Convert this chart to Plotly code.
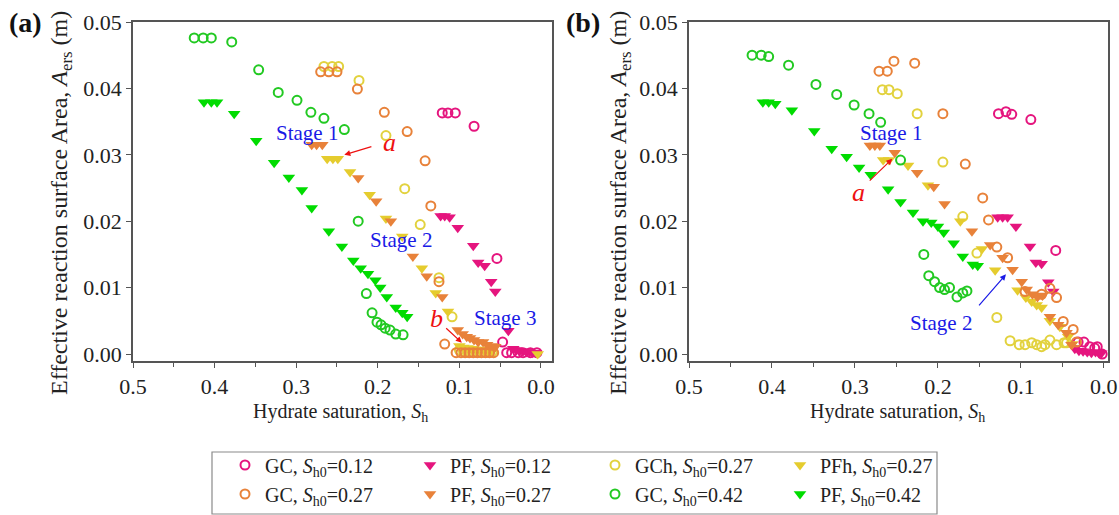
import plotly.graph_objects as go

# ---------------- data : panel (a) ----------------
a_gc12_x = [0.121,0.114,0.105,0.082,0.054,0.047,0.042,0.036,0.028,0.022,0.013,0.005]
a_gc12_y = [0.0363,0.0363,0.0363,0.0343,0.0144,0.0018,0.0002,0.0002,0.0002,0.0002,0.0002,0.0002]
a_pf12_x = [0.123,0.118,0.112,0.102,0.083,0.077,0.069,0.061,0.056,0.040,0.034,0.030,0.026,0.022,0.018,0.014,0.010,0.006]
a_pf12_y = [0.0208,0.0208,0.0206,0.0190,0.0163,0.0138,0.0133,0.0109,0.0094,0.0035,0.0008,0.0006,0.0005,0.0004,0.0003,0.0003,0.0002,0.0002]
a_gc27_x = [0.270,0.260,0.250,0.225,0.192,0.164,0.142,0.135,0.125,0.118,0.104,0.098,0.093,0.088,0.083,0.078,0.073,0.068,0.063,0.058]
a_gc27_y = [0.0425,0.0425,0.0425,0.0399,0.0364,0.0335,0.0291,0.0223,0.0109,0.0015,0.0002,0.0002,0.0002,0.0002,0.0002,0.0002,0.0002,0.0002,0.0002,0.0002]
a_pf27_x = [0.281,0.275,0.268,0.224,0.202,0.184,0.157,0.140,0.121,0.102,0.096,0.091,0.087,0.082,0.077,0.071,0.066,0.060,0.056]
a_pf27_y = [0.0315,0.0315,0.0315,0.0265,0.0230,0.0200,0.0147,0.0117,0.0086,0.0036,0.0030,0.0026,0.0024,0.0021,0.0018,0.0018,0.0014,0.0012,0.0011]
a_gch27_x = [0.266,0.256,0.248,0.223,0.190,0.167,0.148,0.125,0.109,0.100,0.095,0.090,0.085,0.080,0.075,0.070,0.065,0.060]
a_gch27_y = [0.0433,0.0433,0.0433,0.0412,0.0329,0.0249,0.0195,0.0115,0.0056,0.0006,0.0004,0.0003,0.0003,0.0003,0.0003,0.0003,0.0003,0.0003]
a_pfh27_x = [0.262,0.255,0.249,0.234,0.210,0.190,0.170,0.146,0.129,0.114,0.100,0.095,0.090,0.085,0.080,0.075,0.070,0.065,0.060,0.004]
a_pfh27_y = [0.0294,0.0294,0.0294,0.0274,0.0240,0.0204,0.0177,0.0129,0.0092,0.0064,0.0012,0.0010,0.0009,0.0008,0.0007,0.0006,0.0006,0.0005,0.0005,0.0000]
a_gc42_x = [0.425,0.414,0.404,0.379,0.346,0.322,0.299,0.282,0.266,0.241,0.224,0.214,0.207,0.201,0.196,0.191,0.185,0.178,0.169]
a_gc42_y = [0.0476,0.0476,0.0476,0.0470,0.0428,0.0394,0.0382,0.0364,0.0355,0.0338,0.0200,0.0091,0.0062,0.0048,0.0044,0.0039,0.0036,0.0030,0.0029]
a_pf42_x = [0.413,0.404,0.397,0.376,0.349,0.327,0.309,0.293,0.281,0.260,0.244,0.230,0.221,0.212,0.203,0.197,0.189,0.178,0.170,0.164]
a_pf42_y = [0.0379,0.0379,0.0379,0.0362,0.0321,0.0288,0.0266,0.0247,0.0220,0.0185,0.0162,0.0141,0.0129,0.0121,0.0111,0.0100,0.0086,0.0070,0.0062,0.0056]

# ---------------- data : panel (b) ----------------
b_gc12_x = [0.127,0.118,0.111,0.088,0.058,0.031,0.024,0.017,0.011,0.008,0.002]
b_gc12_y = [0.0362,0.0365,0.0361,0.0353,0.0156,0.0018,0.0018,0.0011,0.0009,0.0011,0.0000]
b_pf12_x = [0.128,0.122,0.116,0.106,0.089,0.082,0.075,0.067,0.061,0.035,0.030,0.025,0.020,0.015,0.010,0.006,0.003]
b_pf12_y = [0.0206,0.0206,0.0206,0.0192,0.0162,0.0138,0.0136,0.0108,0.0094,0.0008,0.0005,0.0004,0.0003,0.0002,0.0003,0.0002,0.0001]
b_gc27_x = [0.271,0.261,0.253,0.228,0.194,0.167,0.146,0.139,0.129,0.116,0.095,0.075,0.065,0.057,0.049,0.037,0.033]
b_gc27_y = [0.0426,0.0426,0.0441,0.0438,0.0362,0.0286,0.0235,0.0202,0.0161,0.0145,0.0094,0.0090,0.0099,0.0085,0.0049,0.0037,0.0018]
b_pf27_x = [0.282,0.276,0.270,0.252,0.225,0.205,0.192,0.159,0.137,0.122,0.110,0.099,0.093,0.086,0.080,0.074,0.065,0.055,0.045,0.039]
b_pf27_y = [0.0314,0.0314,0.0314,0.0303,0.0273,0.0252,0.0226,0.0185,0.0164,0.0145,0.0127,0.0109,0.0097,0.0090,0.0086,0.0088,0.0056,0.0044,0.0032,0.0014]
b_gch27_x = [0.267,0.259,0.249,0.225,0.194,0.170,0.153,0.129,0.113,0.102,0.095,0.087,0.081,0.075,0.071,0.065,0.057,0.048,0.045]
b_gch27_y = [0.0398,0.0398,0.0392,0.0362,0.0289,0.0207,0.0152,0.0055,0.0020,0.0014,0.0014,0.0017,0.0014,0.0011,0.0014,0.0021,0.0014,0.0017,0.0017]
b_pfh27_x = [0.266,0.259,0.236,0.212,0.173,0.147,0.131,0.104,0.094,0.087,0.081,0.075,0.065,0.053,0.043,0.038]
b_pfh27_y = [0.0292,0.0292,0.0284,0.0254,0.0200,0.0158,0.0126,0.0096,0.0085,0.0079,0.0074,0.0070,0.0050,0.0041,0.0026,0.0015]
b_gc42_x = [0.424,0.413,0.404,0.380,0.347,0.322,0.301,0.283,0.269,0.245,0.217,0.211,0.204,0.198,0.192,0.186,0.177,0.170,0.165]
b_gc42_y = [0.0450,0.0450,0.0448,0.0435,0.0406,0.0391,0.0375,0.0362,0.0349,0.0292,0.0150,0.0118,0.0109,0.0100,0.0097,0.0100,0.0086,0.0092,0.0095]
b_pf42_x = [0.411,0.404,0.396,0.376,0.349,0.328,0.310,0.295,0.281,0.260,0.245,0.230,0.218,0.208,0.200,0.193,0.181,0.170,0.158,0.152]
b_pf42_y = [0.0379,0.0379,0.0377,0.0367,0.0336,0.0309,0.0297,0.0281,0.0270,0.0248,0.0229,0.0213,0.0200,0.0198,0.0192,0.0183,0.0167,0.0147,0.0135,0.0133]

x_ticks = [0.5, 0.4, 0.3, 0.2, 0.1, 0.0]
x_tick_labels = ["0.5", "0.4", "0.3", "0.2", "0.1", "0.0"]
y_ticks = [0.00, 0.01, 0.02, 0.03, 0.04, 0.05]
y_tick_labels = ["0.00", "0.01", "0.02", "0.03", "0.04", "0.05"]

MAG = "#E5157E"
ORA = "#E8823A"
YEL_C = "#E2D23E"
YEL_T = "#E5CC2E"
GRN_C = "#22C922"
GRN_T = "#00DC00"
FONT = "Liberation Serif"

series = [
    ("GC, <i>S</i><sub>h0</sub>=0.12", "legend", MAG, True, (a_gc12_x, a_gc12_y), (b_gc12_x, b_gc12_y)),
    ("PF, <i>S</i><sub>h0</sub>=0.12", "legend", MAG, False, (a_pf12_x, a_pf12_y), (b_pf12_x, b_pf12_y)),
    ("GCh, <i>S</i><sub>h0</sub>=0.27", "legend", YEL_C, True, (a_gch27_x, a_gch27_y), (b_gch27_x, b_gch27_y)),
    ("PFh, <i>S</i><sub>h0</sub>=0.27", "legend", YEL_T, False, (a_pfh27_x, a_pfh27_y), (b_pfh27_x, b_pfh27_y)),
    ("GC, <i>S</i><sub>h0</sub>=0.27", "legend2", ORA, True, (a_gc27_x, a_gc27_y), (b_gc27_x, b_gc27_y)),
    ("PF, <i>S</i><sub>h0</sub>=0.27", "legend2", ORA, False, (a_pf27_x, a_pf27_y), (b_pf27_x, b_pf27_y)),
    ("GC, <i>S</i><sub>h0</sub>=0.42", "legend2", GRN_C, True, (a_gc42_x, a_gc42_y), (b_gc42_x, b_gc42_y)),
    ("PF, <i>S</i><sub>h0</sub>=0.42", "legend2", GRN_T, False, (a_pf42_x, a_pf42_y), (b_pf42_x, b_pf42_y)),
]

fig = go.Figure()
for name, leg, col, is_circle, da, db in series:
    if is_circle:
        mk = dict(symbol="circle-open", size=9, color=col, line=dict(width=2, color=col))
    else:
        mk = dict(symbol="triangle-down", size=11, color=col, line=dict(width=0))
    fig.add_trace(go.Scatter(x=da[0], y=da[1], mode="markers", marker=mk, name=name,
                             legend=leg, showlegend=True, xaxis="x", yaxis="y"))
    fig.add_trace(go.Scatter(x=db[0], y=db[1], mode="markers", marker=mk, name=name,
                             legend=leg, showlegend=False, xaxis="x2", yaxis="y2"))

W, H = 1119, 515
ML, MR, MT, MB = 133, 11, 22, 154
GW, GH = W - ML - MR, H - MT - MB

def px(xp):
    return (xp - ML) / GW

def py(yp):
    return (H - MB - yp) / GH

axis_common = dict(showline=True, linecolor="#555555", linewidth=1.5, mirror=True,
                   ticks="outside", ticklen=5, tickwidth=1.2, tickcolor="#555555",
                   showgrid=False, zeroline=False,
                   tickfont=dict(family=FONT, size=22, color="#222222"))

fig.update_layout(
    width=W, height=H,
    margin=dict(l=ML, r=MR, t=MT, b=MB, autoexpand=False),
    plot_bgcolor="white", paper_bgcolor="white",
    font=dict(family=FONT, size=18, color="#222222"),
    xaxis=dict(domain=[0, px(552)], range=[0.5, -0.0135], tickvals=x_ticks, ticktext=x_tick_labels,
               minor=dict(tickvals=[0.45, 0.35, 0.25, 0.15, 0.05], ticks="outside", ticklen=4,
                          tickcolor="#555555"),
               anchor="y", **axis_common),
    yaxis=dict(domain=[0, 1], range=[-0.00105, 0.05], tickvals=y_ticks, ticktext=y_tick_labels,
               anchor="x", **axis_common),
    xaxis2=dict(domain=[px(689), 1], range=[0.5, -0.005], tickvals=x_ticks, ticktext=x_tick_labels,
                minor=dict(tickvals=[0.45, 0.35, 0.25, 0.15, 0.05], ticks="outside", ticklen=4,
                           tickcolor="#555555"),
                anchor="y2", **axis_common),
    yaxis2=dict(domain=[0, 1], range=[-0.00105, 0.05], tickvals=y_ticks, ticktext=y_tick_labels,
                anchor="x2", **axis_common),
    legend=dict(orientation="h", x=px(225), xanchor="left", y=py(465), yanchor="middle",
                entrywidth=140, entrywidthmode="pixels", bgcolor="rgba(0,0,0,0)", borderwidth=0,
                font=dict(family=FONT, size=20, color="#222222"), itemsizing="trace"),
    legend2=dict(orientation="h", x=px(225), xanchor="left", y=py(494), yanchor="middle",
                 entrywidth=140, entrywidthmode="pixels", bgcolor="rgba(0,0,0,0)", borderwidth=0,
                 font=dict(family=FONT, size=20, color="#222222"), itemsizing="trace"),
)

# legend frame
fig.add_shape(type="rect", xref="paper", yref="paper", x0=px(212), x1=px(937), y0=py(514), y1=py(452),
              line=dict(color="#8a8a8a", width=1.2), fillcolor="rgba(0,0,0,0)")

ann = []
ytitle = "Effective reaction surface Area, <i>A</i><sub>ers</sub> (m)"
xtitle = "Hydrate saturation, <i>S</i><sub>h</sub>"
for xc in (61, 620):
    ann.append(dict(text=ytitle, xref="paper", yref="paper", x=px(xc), y=py(203), textangle=-90,
                    showarrow=False, xanchor="center", yanchor="middle",
                    font=dict(family=FONT, size=24, color="#222222")))
for xc in (340, 897):
    ann.append(dict(text=xtitle, xref="paper", yref="paper", x=px(xc), y=py(412),
                    showarrow=False, xanchor="center", yanchor="middle",
                    font=dict(family=FONT, size=20, color="#222222")))
ann.append(dict(text="<b>(a)</b>", xref="paper", yref="paper", x=px(25), y=py(22), showarrow=False,
                xanchor="center", yanchor="middle", font=dict(family=FONT, size=28, color="#111111")))
ann.append(dict(text="<b>(b)</b>", xref="paper", yref="paper", x=px(583), y=py(22), showarrow=False,
                xanchor="center", yanchor="middle", font=dict(family=FONT, size=28, color="#111111")))

BLUE = "#1A1AE6"
RED = "#EE1111"
stage_font = dict(family=FONT, size=21, color=BLUE)
letter_font = dict(family=FONT, size=26, color=RED)
# panel (a)
ann += [
    dict(text="Stage 1", x=0.287, y=0.0333, xref="x", yref="y", showarrow=False, font=stage_font),
    dict(text="Stage 2", x=0.172, y=0.0172, xref="x", yref="y", showarrow=False, font=stage_font),
    dict(text="Stage 3", x=0.044, y=0.0054, xref="x", yref="y", showarrow=False, font=stage_font),
    dict(text="<i>a</i>", x=0.186, y=0.0318, xref="x", yref="y", showarrow=False, font=letter_font),
    dict(text="<i>b</i>", x=0.128, y=0.0054, xref="x", yref="y", showarrow=False, font=letter_font),
    dict(text="", x=0.241, y=0.0300, ax=0.206, ay=0.0313, xref="x", yref="y", axref="x", ayref="y",
         showarrow=True, arrowhead=2, arrowsize=1, arrowwidth=1.2, arrowcolor=RED),
    dict(text="", x=0.097, y=0.0017, ax=0.118, ay=0.0041, xref="x", yref="y", axref="x", ayref="y",
         showarrow=True, arrowhead=2, arrowsize=1, arrowwidth=1.2, arrowcolor=RED),
]
# panel (b)
ann += [
    dict(text="Stage 1", x=0.257, y=0.0333, xref="x2", yref="y2", showarrow=False, font=stage_font),
    dict(text="Stage 2", x=0.196, y=0.0047, xref="x2", yref="y2", showarrow=False, font=stage_font),
    dict(text="<i>a</i>", x=0.296, y=0.0244, xref="x2", yref="y2", showarrow=False, font=letter_font),
    dict(text="", x=0.255, y=0.0294, ax=0.284, ay=0.0259, xref="x2", yref="y2", axref="x2", ayref="y2",
         showarrow=True, arrowhead=2, arrowsize=1, arrowwidth=1.2, arrowcolor=RED),
    dict(text="", x=0.118, y=0.0120, ax=0.152, ay=0.0071, xref="x2", yref="y2", axref="x2", ayref="y2",
         showarrow=True, arrowhead=2, arrowsize=1, arrowwidth=1.2, arrowcolor=BLUE),
]
fig.update_layout(annotations=ann)

fig.write_html("out.html", config={"displayModeBar": False},
               post_script="document.body.style.margin='0px';document.body.style.overflow='hidden';")
